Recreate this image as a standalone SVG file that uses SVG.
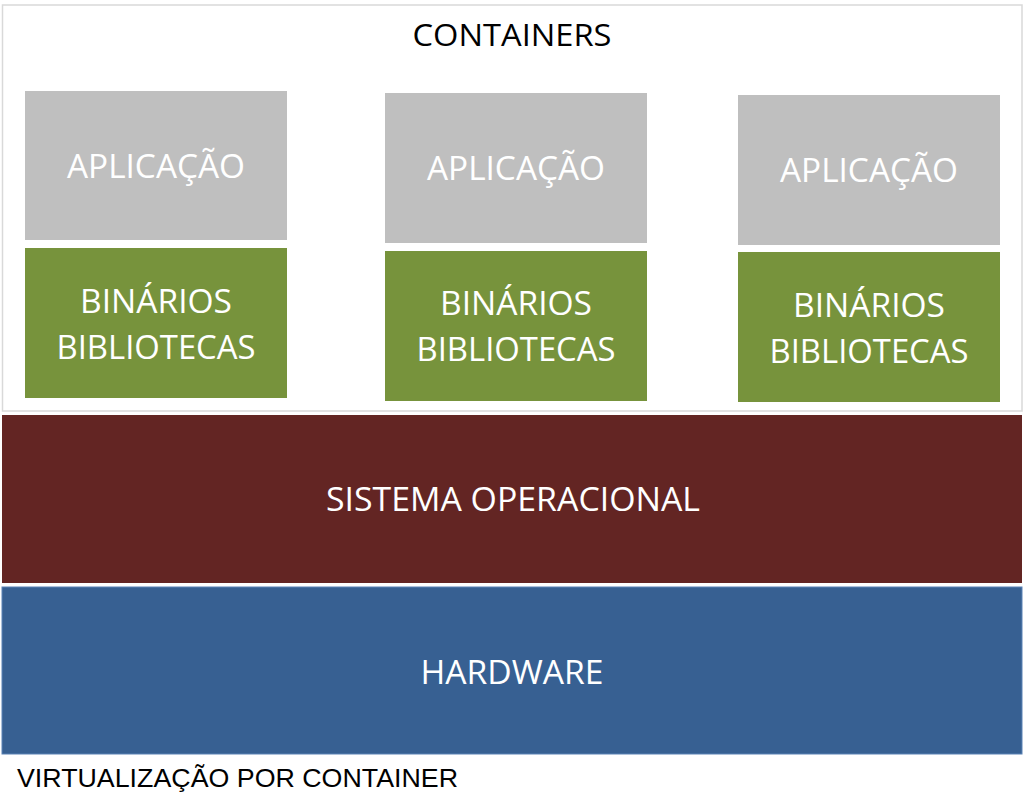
<svg xmlns="http://www.w3.org/2000/svg" width="1024" height="810" viewBox="0 0 1024 810">
<style>
.lbl{font-family:"Open Sans","Noto Sans","DejaVu Sans",sans-serif;font-size:32px;text-anchor:middle;fill:#ffffff}
.app{fill:#bfbfbf}
.bin{fill:#77933c}
</style>
<rect width="1024" height="810" fill="#ffffff"/>
<g id="containers">
<rect x="2.5" y="5" width="1019.5" height="406" fill="#ffffff" stroke="#d9d9d9" stroke-width="1.5"/>
<text x="512" y="46" class="lbl" style="fill:#000000;font-size:31px" textLength="199" lengthAdjust="spacingAndGlyphs">CONTAINERS</text>
</g>
<g id="app1"><rect class="app" x="25" y="91" width="262" height="149"/><text class="lbl" x="156" y="178" textLength="178" lengthAdjust="spacingAndGlyphs">APLICAÇÃO</text></g>
<g id="bin1"><rect class="bin" x="25" y="248" width="262" height="150"/><text class="lbl" x="156" y="313" textLength="152" lengthAdjust="spacingAndGlyphs">BINÁRIOS</text><text class="lbl" x="156" y="359" textLength="199" lengthAdjust="spacingAndGlyphs">BIBLIOTECAS</text></g>
<g id="app2"><rect class="app" x="385" y="93" width="262" height="150"/><text class="lbl" x="516" y="180" textLength="178" lengthAdjust="spacingAndGlyphs">APLICAÇÃO</text></g>
<g id="bin2"><rect class="bin" x="385" y="251" width="262" height="150"/><text class="lbl" x="516" y="315" textLength="152" lengthAdjust="spacingAndGlyphs">BINÁRIOS</text><text class="lbl" x="516" y="361" textLength="199" lengthAdjust="spacingAndGlyphs">BIBLIOTECAS</text></g>
<g id="app3"><rect class="app" x="738" y="95" width="262" height="150"/><text class="lbl" x="869" y="182" textLength="178" lengthAdjust="spacingAndGlyphs">APLICAÇÃO</text></g>
<g id="bin3"><rect class="bin" x="738" y="252" width="262" height="150"/><text class="lbl" x="869" y="317" textLength="152" lengthAdjust="spacingAndGlyphs">BINÁRIOS</text><text class="lbl" x="869" y="363" textLength="199" lengthAdjust="spacingAndGlyphs">BIBLIOTECAS</text></g>
<g id="so"><rect x="2" y="415" width="1020" height="168" fill="#632523"/><text class="lbl" x="513" y="511" textLength="374" lengthAdjust="spacingAndGlyphs">SISTEMA OPERACIONAL</text></g>
<g id="hardware"><rect x="2" y="587" width="1020" height="167" fill="#376092" stroke="#5b82b5" stroke-width="1"/><text class="lbl" x="512" y="684" textLength="183" lengthAdjust="spacingAndGlyphs">HARDWARE</text></g>
<g id="connectors"></g>
<text x="17" y="787" font-family="'Liberation Sans',Arial,sans-serif" font-size="26" fill="#000000" textLength="441" lengthAdjust="spacingAndGlyphs">VIRTUALIZAÇÃO POR CONTAINER</text>
</svg>
